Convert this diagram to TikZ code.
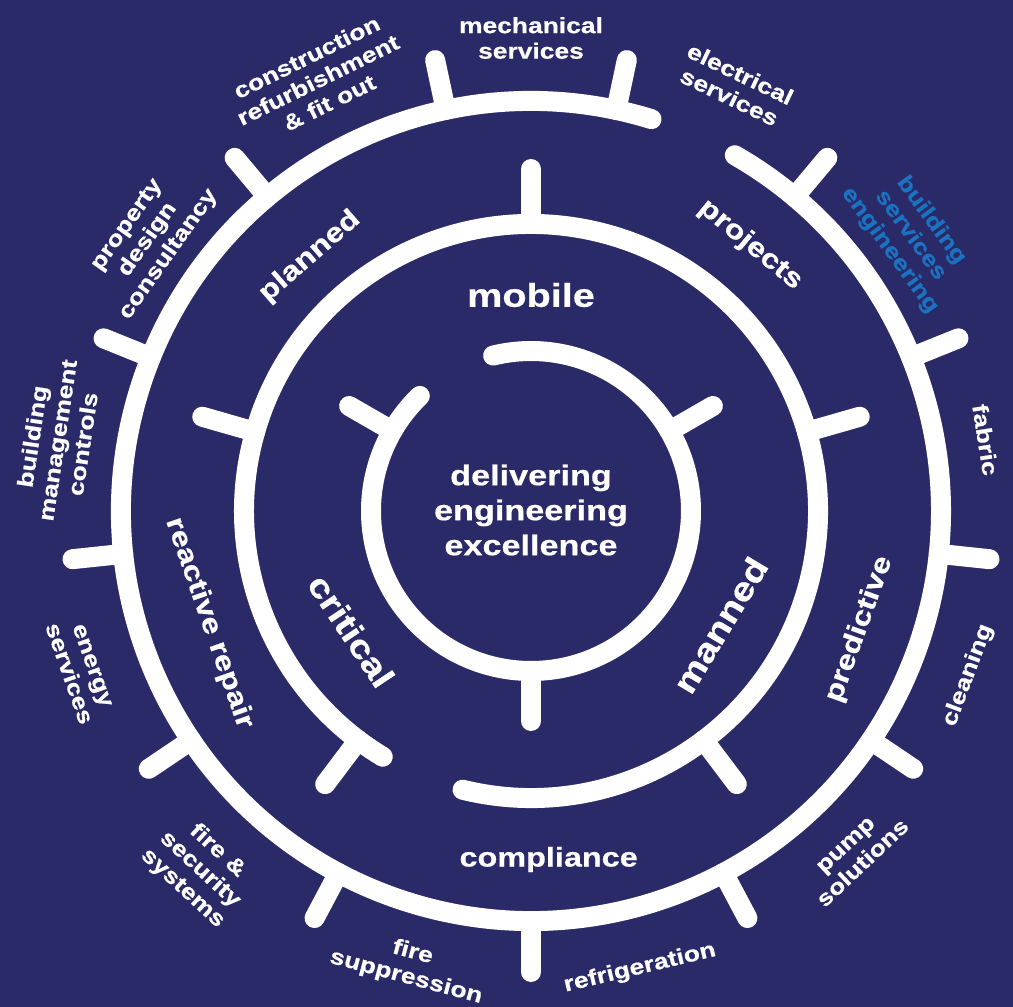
\documentclass[tikz,border=0pt]{standalone}
\usepackage{fontspec}
\setmainfont{Liberation Sans}[FakeStretch=1.2,BoldFeatures={FakeBold=0.6}]
\usepackage{tikz}
\definecolor{navy}{RGB}{42,42,104}
\definecolor{bseblue}{RGB}{26,114,192}

\begin{document}
\begin{tikzpicture}[line cap=round,line join=round,x=1pt,y=1pt,
  ring/.style={color=white,line width=20pt},
  outer/.style={text=white,font=\fontsize{22}{25.5}\selectfont\bfseries,align=center},
  band/.style={text=white,font=\fontsize{27}{30}\selectfont\bfseries},
  core/.style={text=white,font=\fontsize{33}{36}\selectfont\bfseries}]
\useasboundingbox (-531,-496) rectangle (482,511);
\fill[navy] (-531,-496) rectangle (482,511);
% the three rings
\draw[ring] (134:160pt) arc[start angle=134,end angle=463.7,radius=160pt];
\draw[ring] (256.2:287pt) arc[start angle=256.2,end angle=598.9,radius=287pt];
\draw[ring] (72.9:410pt) arc[start angle=72.9,end angle=420.2,radius=410pt];
% ticks
\foreach \a in {30,150,270}
\draw[ring] (\a:160pt) -- (\a:210pt);
\foreach \a in {16,90,164,233,307}
\draw[ring] (\a:287pt) -- (\a:342pt);
\foreach \a in {102,130,...,270}
\draw[ring] (\a:410pt) -- (\a:461pt);
\foreach \a in {78,50,...,-62}
\draw[ring] (\a:410pt) -- (\a:461pt);
% centre and inner band
\node[text=white,font=\fontsize{28.5}{35}\selectfont\bfseries,align=center] (centre) at (0,1) {delivering\\engineering\\excellence};
\node[core] (mobile) at (90:216pt) {mobile};
\node[core,rotate=-56.3] (critical) at (213.7:216pt) {critical};
\node[core,rotate=58.9] (manned) at (-31.1:221pt) {manned};
% middle band
\node[band,rotate=41] (planned) at (131:337pt) {planned};
\node[band,rotate=-39.5] (projects) at (50.5:345pt) {projects};
\node[band,rotate=-70.8] (reactive) at (199.2:341pt) {reactive repair};
\node[band] (compliance) at (272.9:349pt) {compliance};
\node[band,rotate=70.2] (predictive) at (-19.8:349pt) {predictive};
% outer labels
\node[outer,rotate=26.3] (construction) at (116.3:481pt) {construction\\refurbishment\\\& fit out};
\node[outer] (mechanical) at (90:473pt) {mechanical\\services};
\node[outer,rotate=-25.6] (electrical) at (64.4:472pt) {electrical\\services};
\node[outer,text=bseblue,rotate=-54] (bse) at (36:469pt) {building\\services\\engineering};
\node[outer,rotate=-81.1] (fabric) at (8.9:460pt) {fabric};
\node[outer,rotate=69.4] (cleaning) at (-20.6:467pt) {cleaning};
\node[outer,rotate=43.3] (pump) at (-46.7:472pt) {pump\\solutions};
\node[outer,rotate=13.4] (refrigeration) at (-76.6:470pt) {refrigeration};
\node[outer,rotate=-15] (suppression) at (-105:470pt) {fire\\suppression};
\node[outer,rotate=-42.7] (security) at (-132.7:488pt) {fire \&\\security\\systems};
\node[outer,rotate=-70.6] (energy) at (-160.6:478pt) {energy\\services};
\node[outer,rotate=81.5] (bmc) at (171.5:479pt) {building\\management\\controls};
\node[outer,rotate=54.7] (property) at (144.7:469pt) {property\\design\\consultancy};
\end{tikzpicture}
\end{document}
